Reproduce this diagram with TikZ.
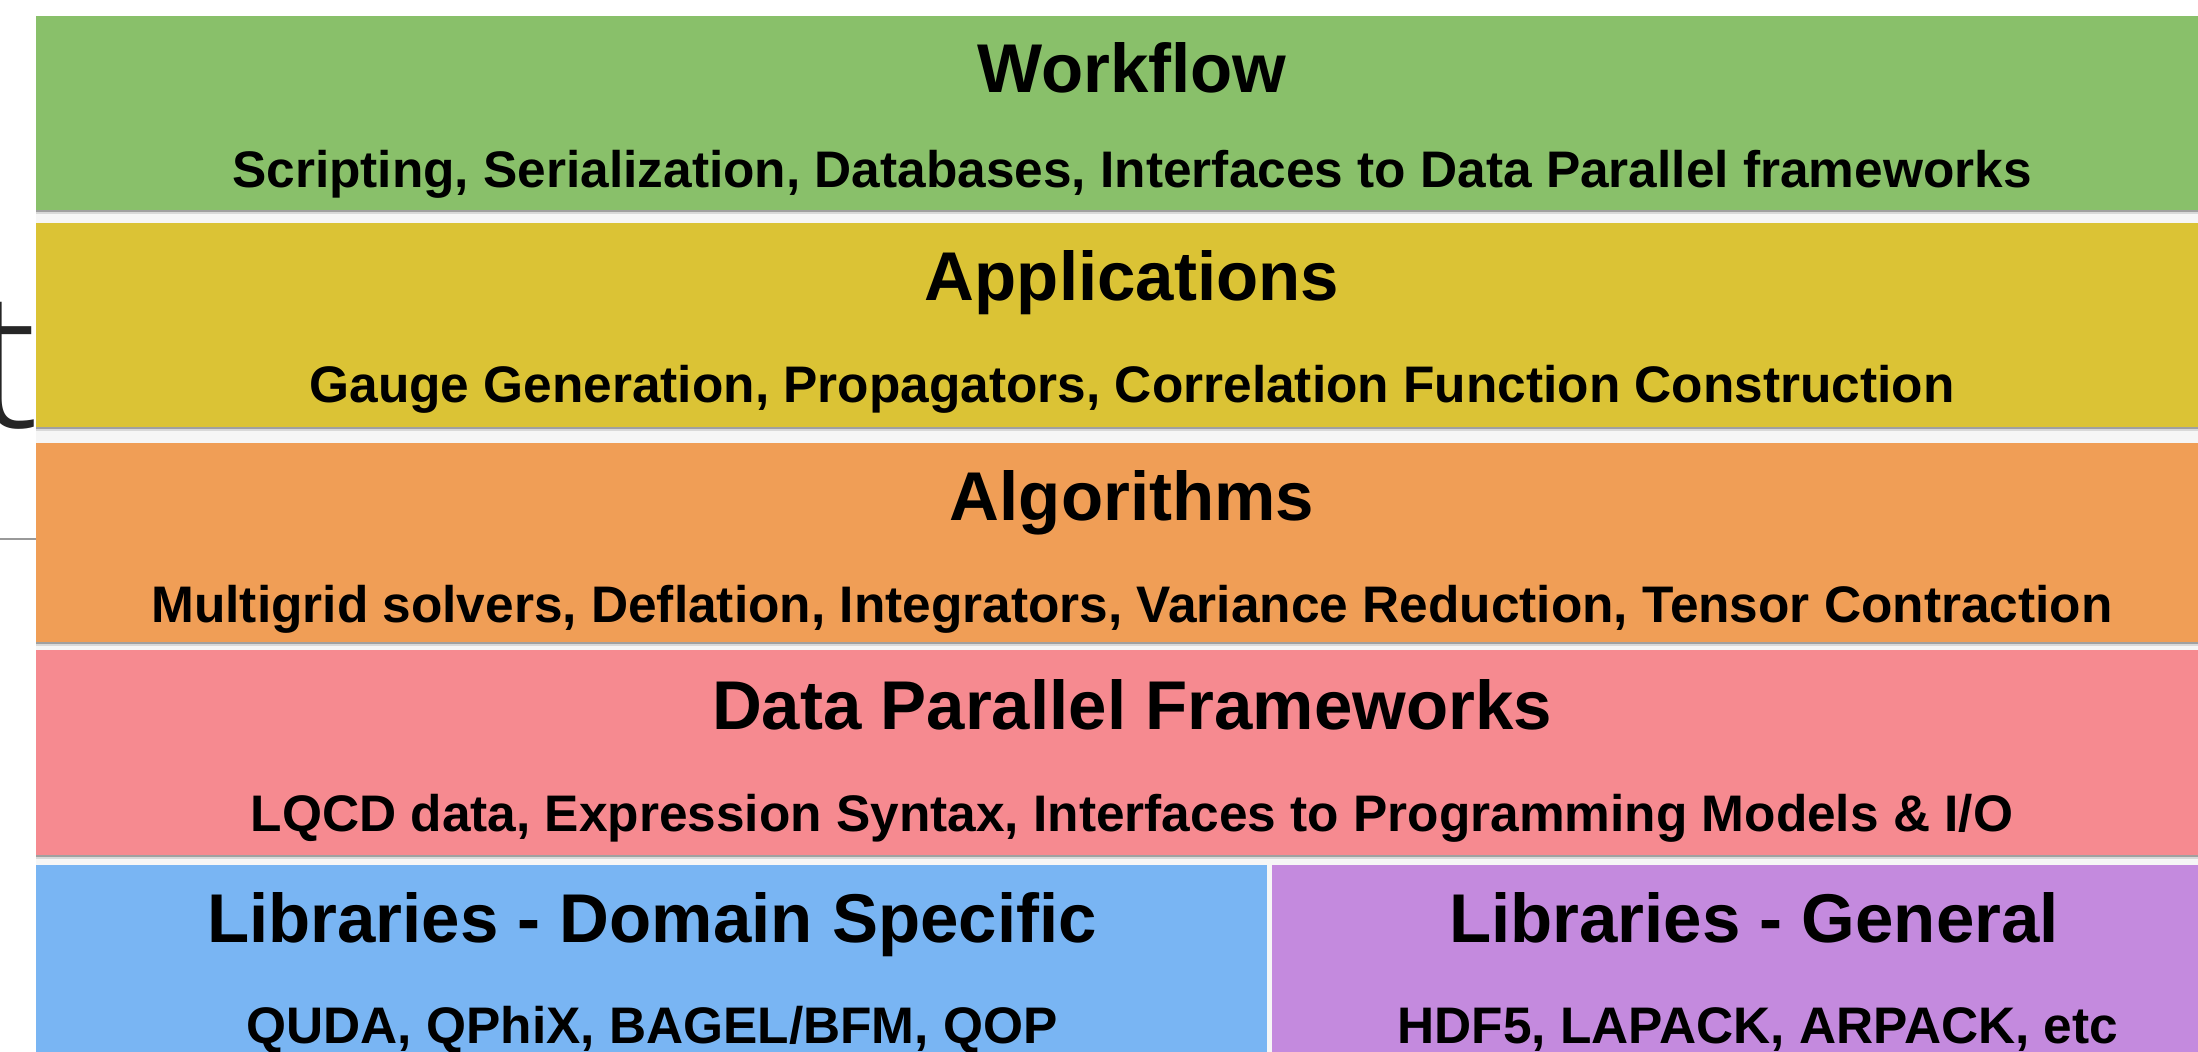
\documentclass[tikz,border=0pt]{standalone}
\usepackage{fontspec}
\setmainfont{Liberation Sans}
\IfFontExistsTF{Open Sans Light}{\newfontfamily\slidefont{Open Sans Light}}{\newfontfamily\slidefont{Open Sans}}
\definecolor{cgreen}{RGB}{137,192,106}
\definecolor{cyellow}{RGB}{219,195,53}
\definecolor{corange}{RGB}{240,158,86}
\definecolor{cpink}{RGB}{246,138,144}
\definecolor{cblue}{RGB}{121,181,243}
\definecolor{cpurple}{RGB}{196,138,222}
\definecolor{cshade}{RGB}{160,160,160}
\definecolor{cgap}{RGB}{246,246,246}
\begin{document}
\begin{tikzpicture}[x=0.5pt,y=-0.5pt,
  titletext/.style={anchor=base, inner sep=0pt, text=black,
    font=\fontsize{34.5}{40}\selectfont\bfseries},
  subtext/.style={anchor=base, inner sep=0pt, text=black,
    font=\fontsize{25.7}{30}\selectfont\bfseries},
  shadestrip/.style={fill=cshade},
  softstrip/.style={fill=cshade!40}]
\useasboundingbox (0,0) rectangle (2198,1052);
\clip (0,0) rectangle (2198,1052);
\fill[white] (0,0) rectangle (2198,1052);
% slide remnants
\node[anchor=base east, inner sep=0pt, text=black!85,
  font=\slidefont\fontsize{95}{100}\selectfont] (tglyph) at (40,428) {t};
\coordinate (ruleA) at (0,539);
\coordinate (ruleB) at (36,539);
\draw[black!40, line width=1pt] (ruleA) -- (ruleB);
% gaps
\fill[cgap] (36,210) rectangle (2198,865);
\fill[cgap] (1267,865) rectangle (1272,1052);
% bands
\fill[cgreen]  (36,16)  rectangle (2228,210);
\fill[shadestrip] (36,210) rectangle (2228,212);
\fill[softstrip]  (36,212) rectangle (2228,214);
\fill[cyellow] (36,223) rectangle (2228,427);
\fill[shadestrip] (36,427) rectangle (2228,429);
\fill[softstrip]  (36,429) rectangle (2228,431);
\fill[corange] (36,443) rectangle (2228,642);
\fill[shadestrip] (36,642) rectangle (2228,644);
\fill[softstrip]  (36,644) rectangle (2228,646);
\fill[cpink]   (36,650) rectangle (2228,855);
\fill[shadestrip] (36,855) rectangle (2228,857);
\fill[softstrip]  (36,857) rectangle (2228,859);
\fill[cblue]   (36,865) rectangle (1267,1060);
\fill[cpurple] (1272,865) rectangle (2240,1060);
% texts
\node[titletext] (wft) at (1132,93)  {Workflow};
\node[subtext]   (wfs) at (1132,188) {Scripting, Serialization, Databases, Interfaces to Data Parallel frameworks};
\node[titletext] (apt) at (1132,301) {Applications};
\node[subtext]   (aps) at (1132,403) {Gauge Generation, Propagators, Correlation Function Construction};
\node[titletext] (alt) at (1132,521) {Algorithms};
\node[subtext]   (als) at (1132,623) {Multigrid solvers, Deflation, Integrators, Variance Reduction, Tensor Contraction};
\node[titletext] (dpt) at (1132,729) {Data Parallel Frameworks};
\node[subtext]   (dps) at (1132,831) {LQCD data, Expression Syntax, Interfaces to Programming Models \& I/O};
\node[titletext] (lds) at (652,942)  {Libraries - Domain Specific};
\node[subtext]   (ldt) at (652,1043) {QUDA, QPhiX, BAGEL/BFM, QOP};
\node[titletext] (lgt) at (1754,942) {Libraries - General};
\node[subtext]   (lgs) at (1758,1043) {HDF5, LAPACK, ARPACK, etc};
\end{tikzpicture}
\end{document}
